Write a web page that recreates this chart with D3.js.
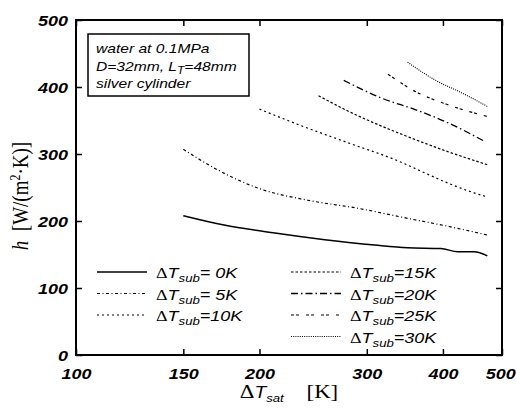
<!DOCTYPE html>
<html>
<head>
<meta charset="utf-8">
<script src="https://cdn.jsdelivr.net/npm/d3@7"></script>
<style>
  body { margin: 0; background: #fff; }
  svg { display: block; }
  text { fill: #000; }
</style>
</head>
<body>
<svg id="chart" width="516" height="410"></svg>
<script>
// ---- data ----
const xTicks = [100, 150, 200, 300, 400, 500];
const yTicks = [0, 100, 200, 300, 400, 500];
const seriesNames = ["0K", "5K", "10K", "15K", "20K", "25K", "30K"];
const sub0_T = [150, 175, 212, 256, 309, 350, 397, 423, 450, 473];
const sub0_h = [208, 194, 182, 172, 164, 160, 159, 154, 154, 148];
const sub5_T = [150, 171, 199, 240, 290, 350, 423, 473];
const sub5_h = [307, 276, 249, 231, 219, 204, 189, 179];
const sub10_T = [200, 233, 281, 339, 373, 409, 450, 473];
const sub10_h = [367, 343, 316, 289, 272, 256, 242, 236];
const sub15_T = [250, 281, 309, 339, 409, 473];
const sub15_h = [387, 363, 346, 331, 303, 284];
const sub20_T = [275, 318, 361, 409, 470];
const sub20_h = [410, 383, 366, 346, 318];
const sub25_T = [325, 361, 409, 473];
const sub25_h = [419, 393, 373, 356];
const sub30_T = [350, 389, 430, 473];
const sub30_h = [437, 410, 391, 371];
const annotation = ["water at 0.1MPa", "D=32mm, L|T|=48mm", "silver cylinder"];

// ---- styles ----
const dashes = ["none", "3,2.5,1,2.5", "2,3", "2.5,2", "7,3,1.5,3", "3,2,3,7", "1,1.2"];
const widths = [1.5, 1.2, 1.2, 1.2, 1.3, 1.2, 1.1];
const SX = 1.2; // horizontal stretch of the text in the reference

const series = [
  [sub0_T, sub0_h], [sub5_T, sub5_h], [sub10_T, sub10_h], [sub15_T, sub15_h],
  [sub20_T, sub20_h], [sub25_T, sub25_h], [sub30_T, sub30_h]
].map((s, i) => ({ name: seriesNames[i], pts: s[0].map((t, j) => [t, s[1][j]]) }));

const svg = d3.select("#chart");
const L = 76, R = 502, T = 20, B = 355;
const x = d3.scaleLog().domain([100, 500]).range([L, R]);
const y = d3.scaleLinear().domain([0, 500]).range([B, T]);

const sans = "'Liberation Sans', Arial, sans-serif";
const serif = "'Liberation Serif', 'Times New Roman', serif";

// curves
const line = d3.line().x(d => x(d[0])).y(d => y(d[1])).curve(d3.curveMonotoneX);
svg.append("g").selectAll("path").data(series).join("path")
  .attr("d", d => line(d.pts))
  .attr("fill", "none").attr("stroke", "#000")
  .attr("stroke-width", (d, i) => widths[i])
  .attr("stroke-dasharray", (d, i) => dashes[i]);

// axes
const fmt = d3.format("d");
const gb = svg.append("g").attr("transform", `translate(0,${B})`)
  .call(d3.axisBottom(x).tickValues(xTicks).tickSize(-6).tickFormat(fmt));
const gt = svg.append("g").attr("transform", `translate(0,${T})`)
  .call(d3.axisTop(x).tickValues(xTicks).tickSize(-6).tickFormat(""));
const gl = svg.append("g").attr("transform", `translate(${L},0)`)
  .call(d3.axisLeft(y).tickValues(yTicks).tickSize(-6).tickFormat(fmt));
const gr = svg.append("g").attr("transform", `translate(${R},0)`)
  .call(d3.axisRight(y).tickValues(yTicks).tickSize(-6).tickFormat(""));
[gb, gt, gl, gr].forEach(g => {
  g.select(".domain").remove();
  g.selectAll(".tick line").attr("stroke", "#000").attr("stroke-width", 1.5);
});
gb.selectAll(".tick text")
  .attr("y", 24).attr("dy", null)
  .attr("x", d => d === 500 ? -1.5 : 0)
  .attr("transform", `scale(${SX},1)`)
  .style("font", `italic bold 15px ${sans}`);
gl.selectAll(".tick text")
  .attr("x", -8 / SX).attr("dy", "0.36em")
  .attr("transform", `scale(${SX},1)`)
  .style("font", `italic bold 15px ${sans}`);

// frame
svg.append("rect").attr("x", L).attr("y", T).attr("width", R - L).attr("height", B - T)
  .attr("fill", "none").attr("stroke", "#000").attr("stroke-width", 2);

// helper for stretched text
function stext(px, py, anchor) {
  return svg.append("g").attr("transform", `translate(${px},${py}) scale(${SX},1)`)
    .append("text").attr("text-anchor", anchor || "start");
}

// annotation box
svg.append("rect").attr("x", 88).attr("y", 34).attr("width", 161).attr("height", 62)
  .attr("fill", "#fff").attr("stroke", "#000").attr("stroke-width", 1.5);
[53, 71, 88].forEach((by, i) => {
  const t = stext(96, by).style("font", `italic 13px ${sans}`);
  annotation[i].split("|").forEach((part, k) => {
    const ts = t.append("tspan").text(part);
    if (k === 1) ts.attr("dy", 3).style("font-size", "10px");
    if (k === 2) ts.attr("dy", -3);
  });
});

// legend
const rowsY = [272, 293.5, 315, 336.5];
series.forEach((s, i) => {
  const col = i < 3 ? 0 : 1;
  const row = i < 3 ? i : i - 3;
  const lx = col === 0 ? 97 : 291;
  const ly = rowsY[row];
  svg.append("line").attr("x1", lx).attr("x2", lx + 50).attr("y1", ly).attr("y2", ly)
    .attr("stroke", "#000").attr("stroke-width", widths[i]).attr("stroke-dasharray", dashes[i]);
  const t = stext(lx + 59, ly + 6).style("font", `italic 15px ${sans}`);
  t.append("tspan").text("\u0394").style("font-family", serif).style("font-style", "normal");
  t.append("tspan").text("T");
  t.append("tspan").text("sub").attr("dy", 4).style("font-size", "11px");
  const val = s.name.length === 2 ? "= " + s.name : "=" + s.name;
  t.append("tspan").text(val).attr("dy", -4);
});

// x title
const xt = stext(289, 398, "middle").style("font", `19px ${serif}`);
xt.append("tspan").text("\u0394");
xt.append("tspan").text("T").style("font", `italic 16px ${sans}`);
xt.append("tspan").text("sat").attr("dy", 4).style("font", `italic 11px ${sans}`);
xt.append("tspan").text("\u2002\u2002[K]").attr("dy", -4);

// y title
const yg = svg.append("g").attr("transform", `translate(28,196) scale(${SX},1) rotate(-90)`);
const yt = yg.append("text").attr("text-anchor", "middle").style("font", `19px ${serif}`);
yt.append("tspan").text("h").style("font-style", "italic");
yt.append("tspan").text("\u2002[W/(m");
yt.append("tspan").text("2").attr("dy", -7).style("font-size", "12px");
yt.append("tspan").text("\u00b7K)]").attr("dy", 7);
</script>
</body>
</html>
